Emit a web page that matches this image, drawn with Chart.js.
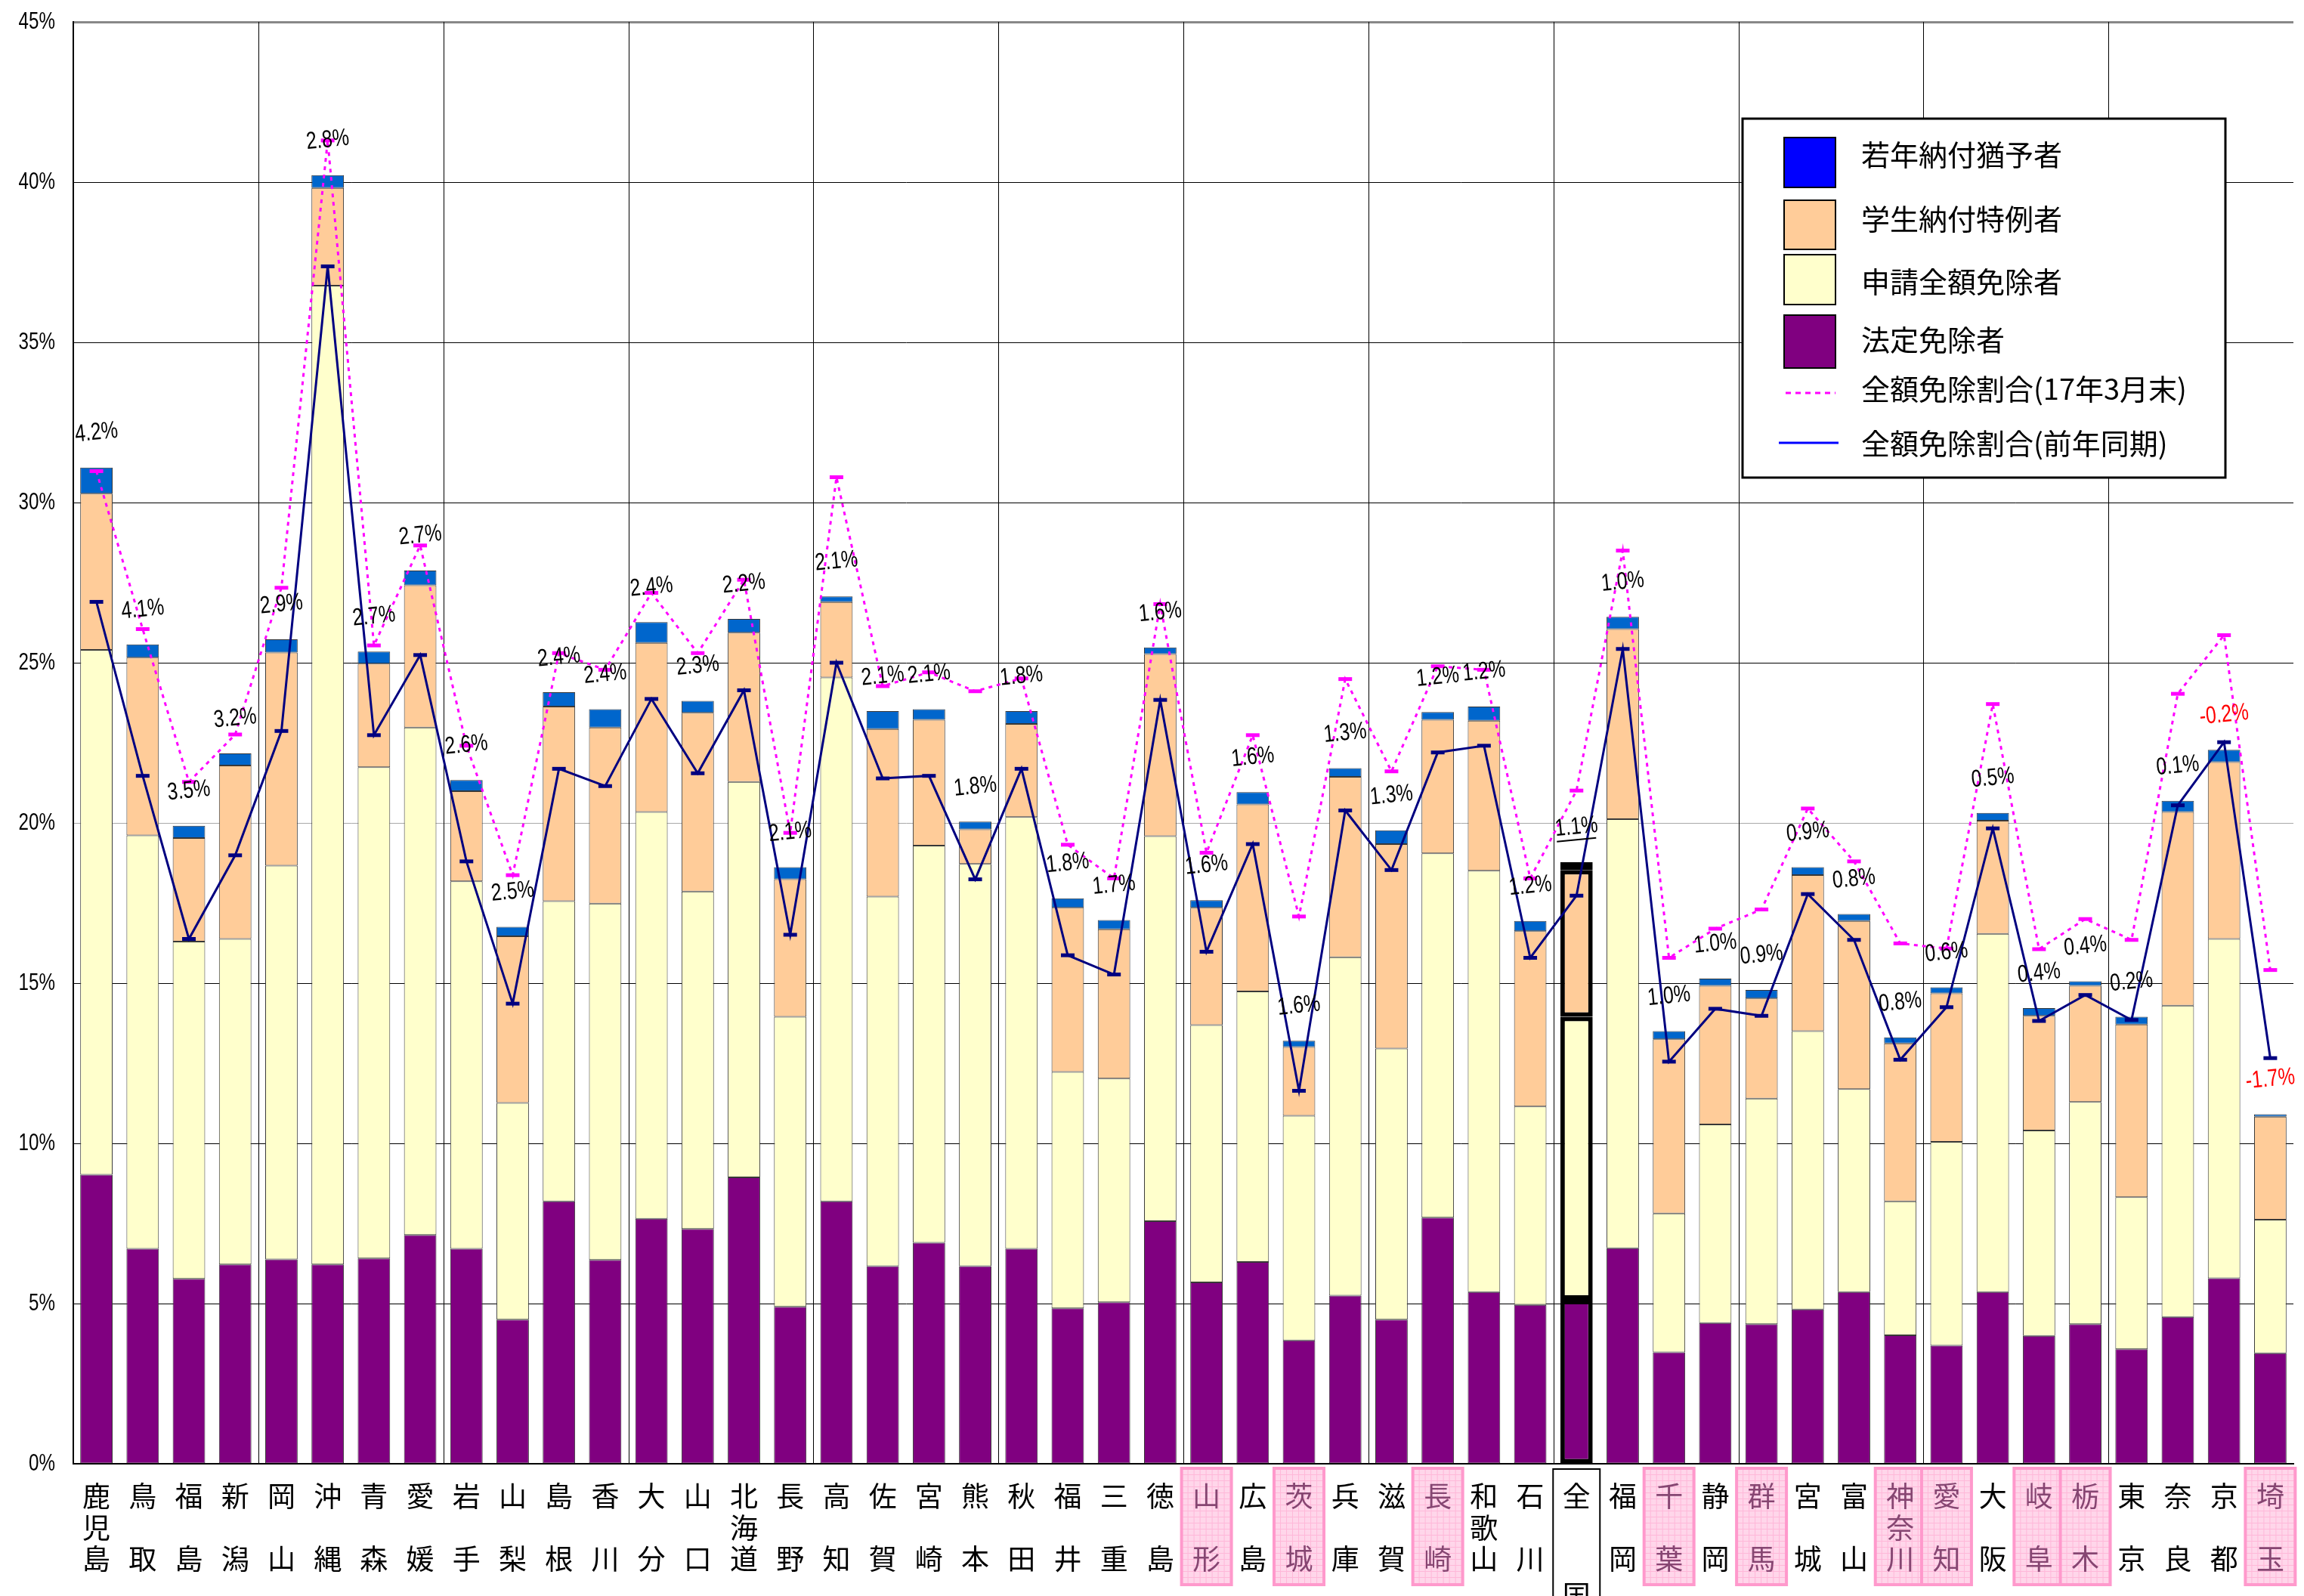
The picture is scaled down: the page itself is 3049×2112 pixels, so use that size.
<!DOCTYPE html>
<html lang="ja">
<head>
<meta charset="utf-8">
<title>全額免除割合</title>
<script src="https://cdn.jsdelivr.net/npm/chart.js@4.4.1/dist/chart.umd.min.js"></script>
<style>
  html, body { margin: 0; padding: 0; background: #fff; }
</style>
</head>
<body>
<canvas id="chart" width="3049" height="2112"></canvas>
<script>
// categories (prefectures, sorted as in the sheet)
const cats = ["鹿児島", "鳥取", "福島", "新潟", "岡山", "沖縄", "青森", "愛媛", "岩手", "山梨", "島根", "香川",
  "大分", "山口", "北海道", "長野", "高知", "佐賀", "宮崎", "熊本", "秋田", "福井", "三重", "徳島",
  "山形", "広島", "茨城", "兵庫", "滋賀", "長崎", "和歌山", "石川", "全国", "福岡", "千葉", "静岡",
  "群馬", "宮城", "富山", "神奈川", "愛知", "大阪", "岐阜", "栃木", "東京", "奈良", "京都", "埼玉"];

// 法定免除者
const houtei = [9.02, 6.71, 5.77, 6.22, 6.38, 6.22, 6.41, 7.14, 6.71, 4.50, 8.19, 6.36,
  7.65, 7.33, 8.94, 4.90, 8.19, 6.17, 6.90, 6.17, 6.71, 4.85, 5.04, 7.57,
  5.66, 6.30, 3.85, 5.25, 4.50, 7.68, 5.36, 4.96, 5.12, 6.73, 3.48, 4.39,
  4.36, 4.82, 5.36, 4.01, 3.69, 5.36, 3.99, 4.36, 3.58, 4.58, 5.79, 3.45];

// 申請全額免除者
const shinsei = [16.38, 12.90, 10.53, 10.16, 12.29, 30.55, 15.33, 15.84, 11.47, 6.76, 9.37, 11.12,
  12.69, 10.53, 12.34, 9.05, 16.35, 11.53, 12.39, 12.55, 13.47, 7.38, 6.98, 12.02,
  8.03, 8.44, 7.01, 10.56, 8.46, 11.37, 13.15, 6.19, 8.83, 13.39, 4.33, 6.20,
  7.04, 8.68, 6.33, 4.18, 6.36, 11.18, 6.41, 6.93, 4.74, 9.72, 10.59, 4.17];

// 学生納付特例者
const gakusei = [4.88, 5.55, 3.23, 5.41, 6.65, 3.05, 3.23, 4.44, 2.81, 5.20, 6.07, 5.50,
  5.28, 5.58, 4.66, 4.29, 2.35, 5.23, 3.93, 1.08, 2.91, 5.12, 4.66, 5.68,
  3.66, 5.84, 2.15, 5.63, 6.38, 4.17, 4.68, 5.47, 4.58, 5.93, 5.44, 4.33,
  3.12, 4.87, 5.25, 4.93, 4.63, 3.53, 3.58, 3.63, 5.39, 6.04, 5.52, 3.21];

// 若年納付猶予者
const jakunen = [0.81, 0.41, 0.38, 0.38, 0.41, 0.40, 0.38, 0.46, 0.35, 0.30, 0.45, 0.57,
  0.65, 0.37, 0.43, 0.38, 0.18, 0.56, 0.33, 0.24, 0.40, 0.30, 0.29, 0.21,
  0.24, 0.38, 0.19, 0.27, 0.43, 0.24, 0.44, 0.32, 0.25, 0.38, 0.25, 0.22,
  0.27, 0.25, 0.22, 0.19, 0.19, 0.24, 0.24, 0.14, 0.24, 0.35, 0.38, 0.08];

// 全額免除割合（17年3月末）
const rate17 = [30.98, 26.05, 21.28, 22.76, 27.34, 41.30, 25.54, 28.66, 22.41, 18.37, 25.30, 24.78,
  27.18, 25.30, 27.59, 19.69, 30.79, 24.27, 24.70, 24.11, 24.51, 19.32, 18.27, 26.83,
  19.07, 22.74, 17.08, 24.49, 21.61, 24.89, 24.78, 18.27, 21.01, 28.50, 15.79, 16.70,
  17.30, 20.45, 18.80, 16.24, 16.08, 23.71, 16.06, 17.00, 16.35, 24.03, 25.86, 15.41];

// 全額免除割合（前年同期）
const ratePrev = [26.90, 21.47, 16.38, 18.99, 22.87, 37.37, 22.74, 25.24, 18.80, 14.36, 21.69, 21.15,
  23.87, 21.55, 24.14, 16.51, 25.00, 21.39, 21.47, 18.24, 21.69, 15.87, 15.27, 23.84,
  15.98, 19.34, 11.64, 20.39, 18.53, 22.20, 22.41, 15.79, 17.73, 25.43, 12.55, 14.20,
  13.98, 17.78, 16.35, 12.61, 14.25, 19.83, 13.82, 14.63, 13.85, 20.55, 22.52, 12.66];

// 前年同期との差
const diffLabels = ["4.2%", "4.1%", "3.5%", "3.2%", "2.9%", "2.8%", "2.7%", "2.7%", "2.6%", "2.5%", "2.4%", "2.4%",
  "2.4%", "2.3%", "2.2%", "2.1%", "2.1%", "2.1%", "2.1%", "1.8%", "1.8%", "1.8%", "1.7%", "1.6%",
  "1.6%", "1.6%", "1.6%", "1.3%", "1.3%", "1.2%", "1.2%", "1.2%", "1.1%", "1.0%", "1.0%", "1.0%",
  "0.9%", "0.9%", "0.8%", "0.8%", "0.6%", "0.5%", "0.4%", "0.4%", "0.2%", "0.1%", "-0.2%", "-1.7%"];

const highlighted = ["山形", "茨城", "長崎", "千葉", "群馬", "神奈川", "愛知", "岐阜", "栃木", "埼玉"];
const yTicks = ["0%", "5%", "10%", "15%", "20%", "25%", "30%", "35%", "40%", "45%"];
const legendLabels = ["若年納付猶予者", "学生納付特例者", "申請全額免除者", "法定免除者",
  "全額免除割合(17年3月末)", "全額免除割合(前年同期)"];

const zenkoku = cats.indexOf("全国");
const jpFont = "'Noto Sans CJK JP', 'Noto Sans', sans-serif";
const numFont = "'Liberation Sans', Arial, sans-serif";

function barSet(label, data, color) {
  return {
    label: label,
    data: data,
    backgroundColor: color,
    borderColor: c => c.dataIndex === zenkoku ? "#000" : "#383838",
    borderWidth: c => c.dataIndex === zenkoku ? 6 : 1,
    borderSkipped: false,
    stack: "bars",
    order: 1,
    barPercentage: 0.7,
    categoryPercentage: 1
  };
}

// narrow text, like the condensed digits in the sheet
function narrowText(ctx, text, x, y, size, color, align, rot) {
  ctx.save();
  ctx.translate(x, y);
  if (rot) ctx.rotate(rot);
  ctx.scale(0.78, 1);
  ctx.font = size + "px " + numFont;
  ctx.fillStyle = color;
  ctx.textAlign = align;
  ctx.textBaseline = "middle";
  ctx.fillText(text, 0, 0);
  ctx.restore();
}

const extras = {
  id: "extras",
  beforeDatasetsDraw(chart) {
    // vertical grid every 4 categories
    const { ctx, chartArea } = chart;
    const cw = (chartArea.right - chartArea.left) / cats.length;
    ctx.save();
    ctx.strokeStyle = "#000";
    ctx.lineWidth = 1;
    for (let k = 4; k < cats.length; k += 4) {
      const px = Math.round(chartArea.left + k * cw) + 0.5;
      ctx.beginPath();
      ctx.moveTo(px, chartArea.top);
      ctx.lineTo(px, chartArea.bottom);
      ctx.stroke();
    }
    ctx.restore();
  },
  afterDatasetsDraw(chart) {
    // difference labels above the bars
    const ctx = chart.ctx;
    const top = chart.getDatasetMeta(5).data;
    top.forEach((bar, i) => {
      const neg = diffLabels[i].startsWith("-");
      const y = bar.y - 46;
      narrowText(ctx, diffLabels[i], bar.x, y, 32, neg ? "#ff0000" : "#000", "center", -0.1);
      if (i === zenkoku) {
        ctx.save();
        ctx.strokeStyle = "#000";
        ctx.lineWidth = 2;
        ctx.beginPath();
        ctx.moveTo(bar.x - 26, y + 19);
        ctx.lineTo(bar.x + 26, y + 14);
        ctx.stroke();
        ctx.restore();
      }
    });
  },
  afterDraw(chart) {
    const { ctx, chartArea } = chart;
    const xs = chart.scales.x;
    const ys = chart.scales.y;

    // y tick labels
    yTicks.forEach((t, i) => {
      narrowText(ctx, t, 73, ys.getPixelForValue(i * 5), 31, "#000", "right", 0);
    });

    // category labels, written top to bottom
    const rows = [chartArea.bottom + 43, chartArea.bottom + 85, chartArea.bottom + 126];
    cats.forEach((name, i) => {
      const cx = xs.getPixelForValue(i);
      const pink = highlighted.includes(name);
      if (pink) {
        const bx = cx - 33, by = chartArea.bottom + 6, bw = 66, bh = 154;
        ctx.save();
        ctx.fillStyle = "#ffd6ea";
        ctx.fillRect(bx, by, bw, bh);
        ctx.strokeStyle = "#ffb8d9";
        ctx.lineWidth = 1;
        for (let gx = bx + 8; gx < bx + bw; gx += 8) {
          ctx.beginPath(); ctx.moveTo(gx + 0.5, by); ctx.lineTo(gx + 0.5, by + bh); ctx.stroke();
        }
        for (let gy = by + 8; gy < by + bh; gy += 8) {
          ctx.beginPath(); ctx.moveTo(bx, gy + 0.5); ctx.lineTo(bx + bw, gy + 0.5); ctx.stroke();
        }
        ctx.strokeStyle = "#ff99cc";
        ctx.lineWidth = 4;
        ctx.strokeRect(bx, by, bw, bh);
        ctx.restore();
      }
      ctx.save();
      ctx.font = "37px " + jpFont;
      ctx.fillStyle = pink ? "#864672" : "#000";
      ctx.textAlign = "center";
      ctx.textBaseline = "middle";
      const ch = Array.from(name);
      if (i === zenkoku) {
        ctx.strokeStyle = "#000";
        ctx.lineWidth = 2;
        ctx.strokeRect(cx - 31, chartArea.bottom + 7, 62, 200);
        ctx.fillText(ch[0], cx, rows[0]);
        ctx.fillText(ch[1], cx, chartArea.bottom + 174);
      } else if (ch.length === 2) {
        ctx.fillText(ch[0], cx, rows[0]);
        ctx.fillText(ch[1], cx, rows[2]);
      } else {
        ch.forEach((c, r) => ctx.fillText(c, cx, rows[r]));
      }
      ctx.restore();
    });

    // legend box
    ctx.save();
    ctx.fillStyle = "#fff";
    ctx.fillRect(2306, 157, 639, 475);
    ctx.strokeStyle = "#000";
    ctx.lineWidth = 3;
    ctx.strokeRect(2306, 157, 639, 475);
    const swatches = [
      { c: "#0000ff", y0: 182, y1: 248 },
      { c: "#ffcc99", y0: 265, y1: 330 },
      { c: "#ffffcc", y0: 337, y1: 403 },
      { c: "#800080", y0: 417, y1: 487 }
    ];
    swatches.forEach(s => {
      ctx.fillStyle = s.c;
      ctx.fillRect(2361, s.y0, 68, s.y1 - s.y0);
      ctx.strokeStyle = "#000";
      ctx.lineWidth = 2;
      ctx.strokeRect(2361, s.y0, 68, s.y1 - s.y0);
    });
    ctx.strokeStyle = "#ff00ff";
    ctx.lineWidth = 3;
    ctx.setLineDash([7, 6]);
    ctx.beginPath(); ctx.moveTo(2363, 520); ctx.lineTo(2429, 520); ctx.stroke();
    ctx.setLineDash([]);
    ctx.strokeStyle = "#0000ff";
    ctx.beginPath(); ctx.moveTo(2354, 586); ctx.lineTo(2433, 586); ctx.stroke();
    const textY = [205, 290, 373, 450, 515, 587];
    ctx.fillStyle = "#000";
    ctx.font = "38px " + jpFont;
    ctx.textAlign = "left";
    ctx.textBaseline = "middle";
    legendLabels.forEach((t, i) => ctx.fillText(t, 2463, textY[i]));
    ctx.restore();
  }
};

new Chart(document.getElementById("chart"), {
  type: "bar",
  data: {
    labels: cats,
    datasets: [
      {
        type: "line", label: legendLabels[4], data: rate17, stack: "m", order: 0,
        borderColor: "#ff00ff", borderWidth: 3, borderDash: [5, 6], tension: 0, fill: false,
        pointStyle: "line", pointRadius: 9, pointBorderWidth: 5, pointBorderColor: "#ff00ff"
      },
      {
        type: "line", label: legendLabels[5], data: ratePrev, stack: "n", order: 0,
        borderColor: "#000080", borderWidth: 3, tension: 0, fill: false,
        pointStyle: "line", pointRadius: 9, pointBorderWidth: 5, pointBorderColor: "#000080"
      },
      barSet(legendLabels[3], houtei, "#800080"),
      barSet(legendLabels[2], shinsei, "#ffffcc"),
      barSet(legendLabels[1], gakusei, "#ffcc99"),
      barSet(legendLabels[0], jakunen, "#0066cc")
    ]
  },
  options: {
    responsive: false,
    animation: false,
    layout: { padding: { top: 29, right: 0, bottom: 0, left: 0 } },
    plugins: { legend: { display: false }, tooltip: { enabled: false } },
    scales: {
      x: {
        stacked: true,
        grid: { display: false },
        ticks: { display: false },
        border: { color: "#000", width: 2 },
        afterFit: s => { s.height = 175; }
      },
      y: {
        stacked: true,
        min: 0,
        max: 45,
        ticks: { stepSize: 5, display: false },
        grid: {
          drawTicks: false,
          lineWidth: c => c.tick && c.tick.value === 45 ? 3 : 1,
          color: c => {
            if (!c.tick) return "#000";
            if (c.tick.value === 45) return "#888";
            if (c.tick.value === 20) return "#aaa";
            return "#000";
          }
        },
        border: { color: "#000", width: 2 },
        afterFit: s => { s.width = 97; }
      }
    }
  },
  plugins: [extras]
});
</script>
</body>
</html>
